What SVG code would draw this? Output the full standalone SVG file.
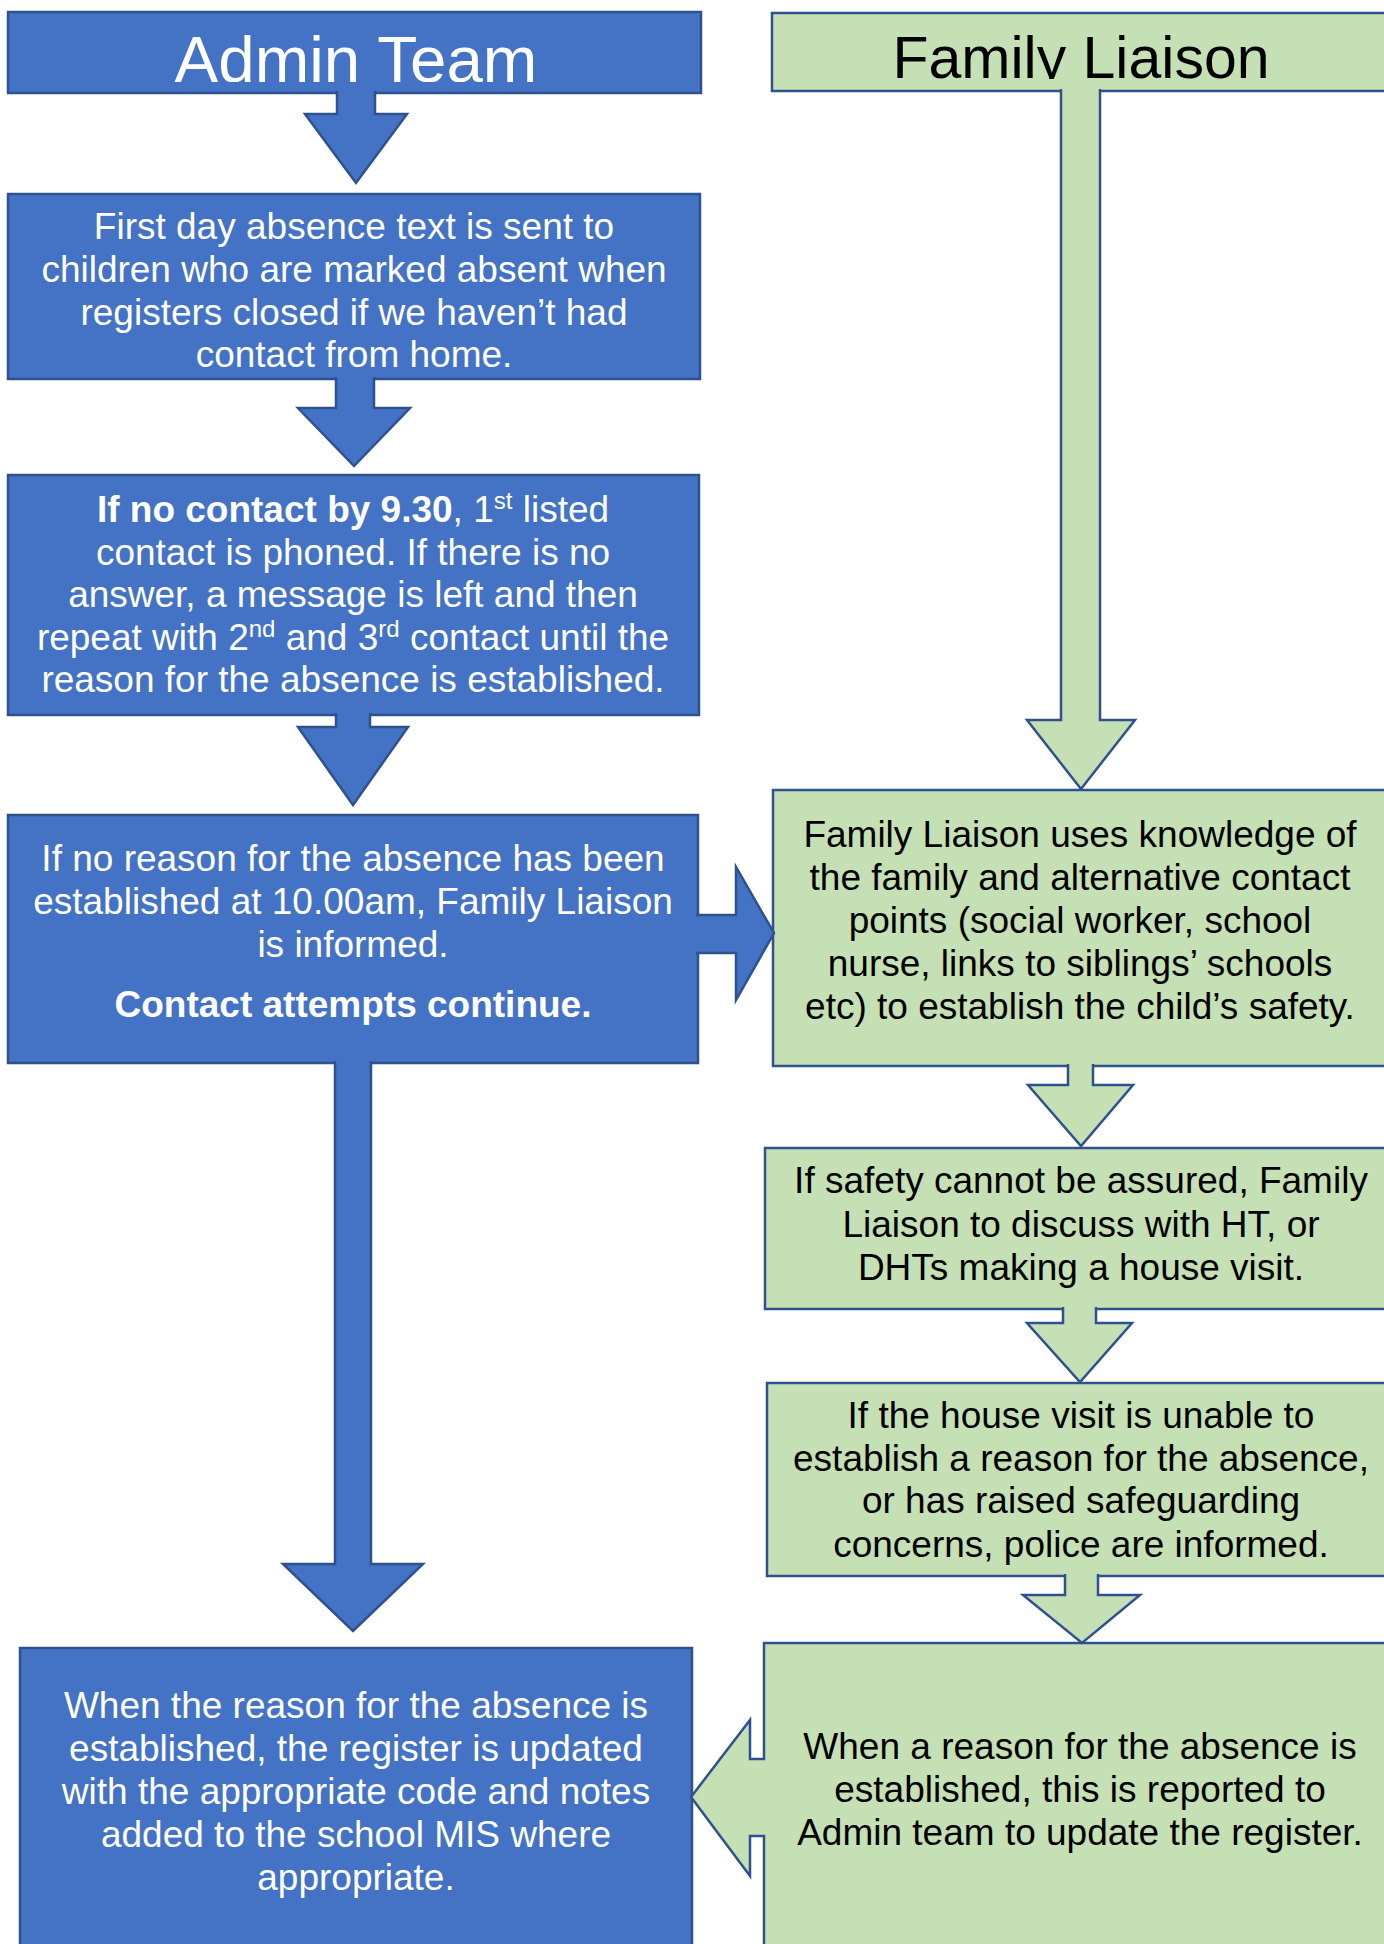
<svg xmlns="http://www.w3.org/2000/svg" width="1384" height="1944" viewBox="0 0 1384 1944">
<style>
.b{fill:#4472C4;stroke:#2F528F;stroke-width:2.5}
.g{fill:#C5E0B4;stroke:#2F528F;stroke-width:2.5}
text{font-family:"Liberation Sans",Arial,sans-serif;font-size:37px;text-anchor:middle}
.w{fill:#ffffff}
.k{fill:#000000}
.bold{font-weight:bold}
.sup{font-size:24px}
</style>
<defs>
<clipPath id="clipA"><rect x="0" y="0" width="1384" height="82"/></clipPath>
<clipPath id="clipF"><rect x="0" y="0" width="1384" height="79"/></clipPath>
</defs>
<rect width="1384" height="1944" fill="#ffffff"/>

<g id="admin-team">
<rect class="b" x="8" y="12" width="693" height="81"/>
<text class="w" x="356" y="82" style="font-size:65.5px" clip-path="url(#clipA)">Admin Team</text>
</g>

<g id="family-liaison">
<rect class="g" x="772" y="13" width="640" height="78"/>
<text class="k" x="1081" y="78" style="font-size:59px" clip-path="url(#clipF)">Family Liaison</text>
</g>

<g id="first-day">
<rect class="b" x="8" y="194" width="692" height="185"/>
<text class="w" x="354" y="239">First day absence text is sent to</text>
<text class="w" x="354" y="282">children who are marked absent when</text>
<text class="w" x="354" y="325">registers closed if we haven’t had</text>
<text class="w" x="354" y="367">contact from home.</text>
</g>

<g id="phone-contacts">
<rect class="b" x="8" y="475" width="691" height="240"/>
<text class="w" x="353" y="522"><tspan class="bold">If no contact by 9.30</tspan>, 1<tspan class="sup" dy="-13">st</tspan><tspan dy="13"> listed</tspan></text>
<text class="w" x="353" y="565">contact is phoned. If there is no</text>
<text class="w" x="353" y="607">answer, a message is left and then</text>
<text class="w" x="353" y="650">repeat with 2<tspan class="sup" dy="-13">nd</tspan><tspan dy="13"> and 3</tspan><tspan class="sup" dy="-13">rd</tspan><tspan dy="13"> contact until the</tspan></text>
<text class="w" x="353" y="692">reason for the absence is established.</text>
</g>

<g id="inform-liaison">
<rect class="b" x="8" y="815" width="690" height="248"/>
<text class="w" x="353" y="871">If no reason for the absence has been</text>
<text class="w" x="353" y="914">established at 10.00am, Family Liaison</text>
<text class="w" x="353" y="957">is informed.</text>
<text class="w bold" x="353" y="1017">Contact attempts continue.</text>
</g>

<g id="update-register">
<rect class="b" x="20" y="1648" width="672" height="320"/>
<text class="w" x="356" y="1718">When the reason for the absence is</text>
<text class="w" x="356" y="1761">established, the register is updated</text>
<text class="w" x="356" y="1804">with the appropriate code and notes</text>
<text class="w" x="356" y="1847">added to the school MIS where</text>
<text class="w" x="356" y="1890">appropriate.</text>
</g>

<g id="liaison-knowledge">
<rect class="g" x="773" y="790" width="640" height="276"/>
<text class="k" x="1080" y="847">Family Liaison uses knowledge of</text>
<text class="k" x="1080" y="890">the family and alternative contact</text>
<text class="k" x="1080" y="933">points (social worker, school</text>
<text class="k" x="1080" y="976">nurse, links to siblings’ schools</text>
<text class="k" x="1080" y="1019">etc) to establish the child’s safety.</text>
</g>

<g id="safety-not-assured">
<rect class="g" x="765" y="1148" width="648" height="161"/>
<text class="k" x="1081" y="1193">If safety cannot be assured, Family</text>
<text class="k" x="1081" y="1237">Liaison to discuss with HT, or</text>
<text class="k" x="1081" y="1280">DHTs making a house visit.</text>
</g>

<g id="police-informed">
<rect class="g" x="767" y="1383" width="646" height="193"/>
<text class="k" x="1081" y="1428">If the house visit is unable to</text>
<text class="k" x="1081" y="1471">establish a reason for the absence,</text>
<text class="k" x="1081" y="1513">or has raised safeguarding</text>
<text class="k" x="1081" y="1557">concerns, police are informed.</text>
</g>

<g id="reason-reported">
<path class="g" d="M764,1643 L1413,1643 L1413,1970 L764,1970 L764,1836 L750,1836 L750,1876 L691,1797 L750,1720 L750,1759 L764,1759 Z"/>
<text class="k" x="1080" y="1759">When a reason for the absence is</text>
<text class="k" x="1080" y="1802">established, this is reported to</text>
<text class="k" x="1080" y="1845">Admin team to update the register.</text>
</g>

<g id="connectors">
<path class="b" d="M337,91 L337,114 L305,114 L356,183 L407,114 L375,114 L375,91"/>
<path class="b" d="M336,377 L336,408 L298,408 L354,466 L410,408 L374,408 L374,377"/>
<path class="b" d="M336,713 L336,727 L298,727 L353,805 L408,727 L370,727 L370,713"/>
<path class="b" d="M696,915 L736,915 L736,867 L774,933 L736,1000 L736,953 L696,953"/>
<path class="b" d="M335,1061 L335,1564 L283,1564 L353,1631 L423,1564 L371,1564 L371,1061"/>
<path class="g" d="M1061,89 L1061,720 L1027,720 L1081,789 L1135,720 L1100,720 L1100,89"/>
<path class="g" d="M1068,1064 L1068,1085 L1028,1085 L1081,1146 L1133,1085 L1093,1085 L1093,1064"/>
<path class="g" d="M1063,1307 L1063,1323 L1027,1323 L1080,1382 L1132,1323 L1096,1323 L1096,1307"/>
<path class="g" d="M1065,1574 L1065,1595 L1023,1595 L1082,1643 L1140,1595 L1098,1595 L1098,1574"/>
</g>
</svg>
